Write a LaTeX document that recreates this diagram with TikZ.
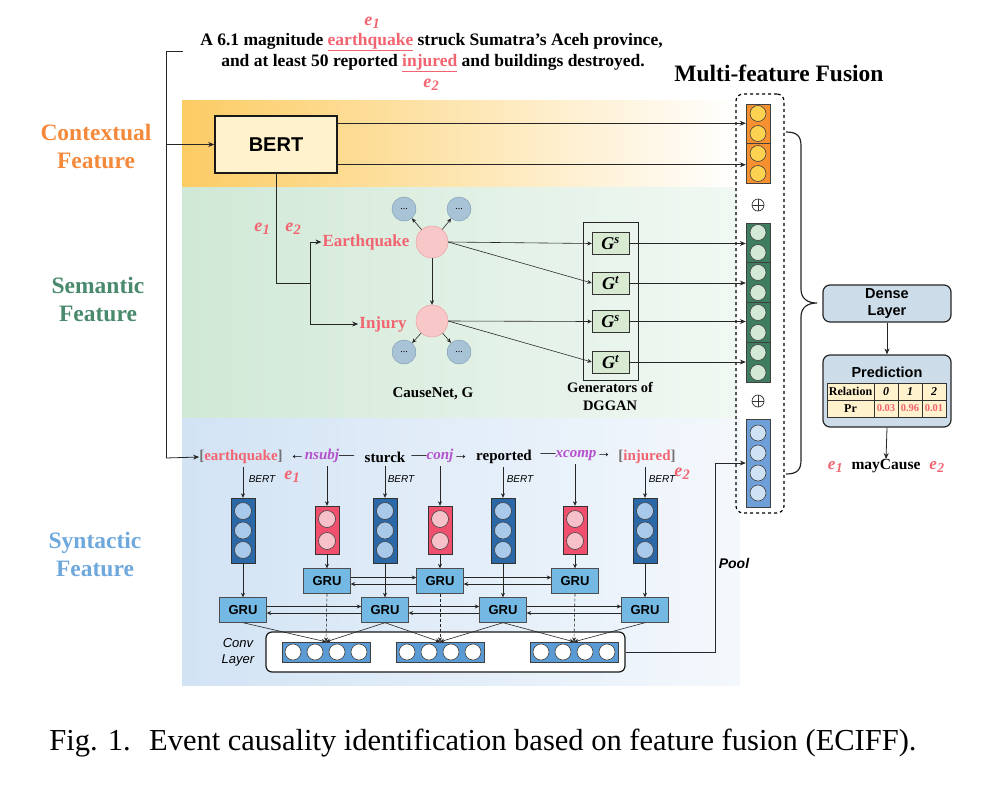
\documentclass[tikz,border=0pt]{standalone}
\usepackage{fontspec}
\setmainfont{Liberation Serif}
\setsansfont{Liberation Sans}
\usepackage{tikz}
\usetikzlibrary{arrows.meta,calc,positioning}

\definecolor{ctxorange}{RGB}{245,137,59}
\definecolor{bandorange}{RGB}{252,204,100}
\definecolor{semgreen}{RGB}{74,138,108}
\definecolor{bandgreen}{RGB}{208,232,214}
\definecolor{synblue}{RGB}{111,168,220}
\definecolor{bandblue}{RGB}{210,227,244}
\definecolor{entred}{RGB}{242,100,112}
\definecolor{deppurple}{RGB}{180,80,205}
\definecolor{bertyellow}{RGB}{255,242,204}
\definecolor{colorange}{RGB}{247,144,47}
\definecolor{dotyellow}{RGB}{253,210,80}
\definecolor{colgreen}{RGB}{62,125,96}
\definecolor{dotgreen}{RGB}{211,233,214}
\definecolor{colblue}{RGB}{111,159,216}
\definecolor{dotblue}{RGB}{207,226,243}
\definecolor{vecblue}{RGB}{43,104,168}
\definecolor{vecdot}{RGB}{169,201,234}
\definecolor{vecred}{RGB}{240,80,110}
\definecolor{vecpink}{RGB}{248,192,200}
\definecolor{grublue}{RGB}{116,185,227}
\definecolor{convblue}{RGB}{91,155,213}
\definecolor{nodepink}{RGB}{248,200,200}
\definecolor{nodeedge}{RGB}{232,150,150}
\definecolor{dotgray}{RGB}{169,195,214}
\definecolor{dotedge}{RGB}{120,150,175}
\definecolor{gengreen}{RGB}{217,234,211}
\definecolor{densegray}{RGB}{204,221,233}

\newcommand{\setsz}[2]{\fontsize{#1}{#2}\selectfont}
\newcommand{\ent}[1]{{\itshape e\kern0.3pt\raisebox{-0.35ex}{\scalebox{0.8}{#1}}}}

\begin{document}
\begin{tikzpicture}[x=1pt,y=-1pt,
    line/.style={draw=black!85, line width=0.8pt},
    arr/.style={line, -{Stealth[length=6pt,width=5pt]}},
    small arr/.style={draw=black!85, line width=0.6pt, -{Stealth[length=4.5pt,width=4pt]}},
    featlbl/.style={font=\bfseries\setsz{23.5}{28}, align=center, inner sep=0},
    word/.style={font=\bfseries\setsz{15}{15}, inner sep=0},
    entlbl/.style={font=\bfseries\setsz{18}{18}, text=entred, inner sep=0},
    bertsm/.style={font=\sffamily\itshape\setsz{10}{10}, inner sep=0},
    dot/.style={draw=black!75, line width=0.6pt},
    bluevec/.style={draw=black!80, fill=vecblue, minimum width=24pt, minimum height=65pt, inner sep=0},
    redvec/.style={draw=black!80, fill=vecred, minimum width=24pt, minimum height=48pt, inner sep=0},
    gru/.style={draw=black!70, fill=grublue, minimum width=47pt, minimum height=25pt, inner sep=0,
        font=\sffamily\bfseries\setsz{13}{13}},
    convvec/.style={draw=black!75, fill=convblue, minimum width=88pt, minimum height=20pt, inner sep=0},
    fcol/.style={draw=black!75, minimum width=24pt, inner sep=0},
    gbox/.style={draw=black!80, fill=gengreen, minimum width=37pt, minimum height=22pt, inner sep=0,
        font=\bfseries\itshape\setsz{18}{18}},
    bignode/.style={circle, draw=nodeedge, fill=nodepink, minimum size=32pt, inner sep=0},
    smallnode/.style={circle, draw=dotedge, fill=dotgray, minimum size=24pt, inner sep=0, font=\setsz{10}{10}},
    cell/.style={draw=black!80, fill=bertyellow, minimum height=17pt, inner sep=0, font=\bfseries\setsz{12}{12}},
    roundbox/.style={draw=black!85, line width=1.2pt, rounded corners=7pt, fill=densegray, inner sep=0}
]
\useasboundingbox (0,0) rectangle (1007,801);

% background bands
\fill[left color=bandorange, right color=white] (182,100) rectangle (737,187);
\fill[left color=bandgreen, right color=white!70!bandgreen] (182,187) rectangle (737,418);
\fill[left color=bandblue, right color=white!75!bandblue] (182,418) rectangle (740,685);

% feature labels
\node[featlbl, text=ctxorange] (ctxlbl) at (96,146) {Contextual\\Feature};
\node[featlbl, text=semgreen] (semlbl) at (98,299) {Semantic\\Feature};
\node[featlbl, text=synblue] (synlbl) at (95,554) {Syntactic\\Feature};

% input sentence
\node[font=\bfseries\setsz{17.5}{17.5}, inner sep=0] (sent1) at (431.5,42)
    {A 6.1 magnitude \textcolor{entred}{\underline{earthquake}} struck Sumatra's Aceh province,};
\node[font=\bfseries\setsz{17.5}{17.5}, inner sep=0] (sent2) at (433,63)
    {and at least 50 reported \textcolor{entred}{\underline{injured}} and buildings destroyed.};
\node[entlbl] (se1) at (372,23) {\ent{1}};
\node[entlbl] (se2) at (431,85) {\ent{2}};

% contextual
\node[draw=black!90, line width=1.5pt, fill=bertyellow, minimum width=122pt, minimum height=57pt,
    font=\sffamily\bfseries\setsz{20}{20}] (bert) at (276,144.5) {BERT};

\coordinate (brtop) at (183,51);
\coordinate (brbot) at (166,458);
\draw[line, line width=1pt] (brtop) -| (brbot);
\draw[arr] (bert.west -| brbot) -- (bert.west);

% fusion column
\node[draw, dashed, line width=1.2pt, rounded corners=7pt, minimum width=48pt, minimum height=419pt] (fuse) at (760,303.5) {};
\node[font=\bfseries\setsz{23.5}{23.5}, inner sep=0] (fuselbl) at (779,73) {Multi-feature Fusion};

\node[fcol, fill=colorange, minimum height=79pt] (colctx) at (758,143.5) {};
\node[fcol, fill=colgreen, minimum height=159pt] (colsem) at (758,302.5) {};
\node[fcol, fill=colblue, minimum height=88pt] (colsyn) at (758,463) {};
\draw[dot] (colctx.west) -- (colctx.east);
\foreach \dy in {-30,-10,10,30}
    \draw[dot, fill=dotyellow] ($(colctx)+(0,\dy)$) circle (8);
\foreach \dy in {-40,0,40}
    \draw[dot] ($(colsem.west)+(0,\dy)$) -- ($(colsem.east)+(0,\dy)$);
\foreach \dy in {-70,-50,-30,-10,10,30,50,70}
    \draw[dot, fill=dotgreen] ($(colsem)+(0,\dy)$) circle (8);
\foreach \dy in {-30,-10,10,30}
    \draw[dot, fill=dotblue] ($(colsyn)+(0,\dy)$) circle (8);
\foreach \y in {205,401} {
    \draw[black!80, line width=0.7pt] (758,\y) circle (6);
    \draw[black!80, line width=0.7pt] (752,\y) -- (764,\y) (758,\y-6) -- (758,\y+6);
}

\coordinate (bt1) at ([yshift=-8pt]bert.north east);
\coordinate (bt2) at ([yshift=9pt]bert.south east);
\draw[arr] (bt1) -- (bt1 -| colctx.west);
\draw[arr] (bt2) -- (bt2 -| colctx.west);

% semantic
\node[font=\bfseries\setsz{17}{17}, text=entred, inner sep=1pt] (eq) at (366,242) {Earthquake};
\node[font=\bfseries\setsz{17}{17}, text=entred, inner sep=1pt] (inj) at (383,324) {Injury};
\node[entlbl] (me1) at (262,229) {\ent{1}};
\node[entlbl] (me2) at (293,229) {\ent{2}};
\coordinate (split) at (310,283);
\draw[line] (bert.south) |- (split);
\draw[arr] (split) |- (eq.west);
\draw[arr] (split) |- (inj.west);

\node[bignode] (ceq) at (432,242) {};
\node[bignode] (cinj) at (432,321) {};
\node[smallnode] (d1) at (404,209) {...};
\node[smallnode] (d2) at (459,209) {...};
\node[smallnode] (d3) at (404,352) {...};
\node[smallnode] (d4) at (459,352) {...};
\foreach \a/\b in {ceq/d1,ceq/d2,cinj/d3,cinj/d4,ceq/cinj}
    \draw[small arr] (\a) -- (\b);
\node[font=\bfseries\setsz{15}{15}, inner sep=0] (causenet) at (433,394) {CauseNet, G};

\node[draw=black!85, line width=0.8pt, minimum width=55pt, minimum height=158pt, inner sep=0] (gen) at (610.5,301) {};
\node[gbox] (gs1) at (610.5,243.5) {G\textsuperscript{s}};
\node[gbox] (gt1) at (610.5,283) {G\textsuperscript{t}};
\node[gbox] (gs2) at (610.5,321.5) {G\textsuperscript{s}};
\node[gbox] (gt2) at (610.5,362) {G\textsuperscript{t}};
\node[font=\bfseries\setsz{14.5}{18}, align=center, inner sep=0] (genlbl) at (610,396) {Generators of\\DGGAN};
\draw[small arr] (ceq.east) -- (gs1.west);
\draw[small arr] (ceq.east) -- (gt1.west);
\draw[small arr] (cinj.east) -- (gs2.west);
\draw[small arr] (cinj.east) -- (gt2.west);
\foreach \g in {gs1,gt1,gs2,gt2}
    \draw[arr] (\g.east) -- (\g.east -| colsem.west);

% syntactic: words
\node[word] (w1) at (241,457) {{\color{black!55}[}\textcolor{entred}{earthquake}{\color{black!55}]}};
\node[word, font=\setsz{15}{15}] (w2) at (322,456) {←\textcolor{deppurple}{\bfseries\itshape nsubj}—};
\node[word] (w3) at (385,457) {sturck};
\node[word, font=\setsz{15}{15}] (w4) at (440,456) {—\textcolor{deppurple}{\bfseries\itshape conj}→};
\node[word] (w5) at (504,457) {reported};
\node[word, font=\setsz{15}{15}] (w6) at (576,456) {—\textcolor{deppurple}{\bfseries\itshape xcomp}→};
\node[word] (w7) at (647,457) {{\color{black!55}[}\textcolor{entred}{injured}{\color{black!55}]}};
\node[entlbl] (we1) at (292,477) {\ent{1}};
\node[entlbl] (we2) at (682,474) {\ent{2}};
\draw[arr] (brbot) -- (w1.west);

% syntactic: token vectors
\foreach \n/\x in {1/243,3/385,5/503,7/645} {
    \node[bluevec] (v\n) at (\x,530.5) {};
    \foreach \dy in {-19.5,0,19.5}
        \draw[dot, fill=vecdot] ($(v\n)+(0,\dy)$) circle (8.5);
}
\foreach \n/\x in {2/327,4/440,6/575} {
    \node[redvec] (v\n) at (\x,530) {};
    \foreach \dy in {-11,11}
        \draw[dot, fill=vecpink] ($(v\n)+(0,\dy)$) circle (8.5);
}
\foreach \n in {1,...,7}
    \draw[small arr] (v\n.north |- w\n.south) ++(0,3) -- (v\n.north);
\foreach \n/\x in {1/262,3/401,5/520,7/662}
    \node[bertsm] (b\n) at (\x,479) {BERT};

% syntactic: GRU layers
\foreach \n/\x in {1/327,2/440,3/575}
    \node[gru] (u\n) at (\x,581) {GRU};
\foreach \n/\x in {1/243,2/385,3/503,4/645}
    \node[gru] (l\n) at (\x,610) {GRU};
\foreach \a/\b in {1/2,2/4,3/6}
    \draw[small arr] (v\b.south) -- (u\a.north);
\foreach \a/\b in {1/1,2/3,3/5,4/7}
    \draw[small arr] (v\b.south) -- (l\a.north);
\foreach \a/\b in {u1/u2,u2/u3,l1/l2,l2/l3,l3/l4} {
    \draw[small arr] ([yshift=3.5pt]\a.east) -- ([yshift=3.5pt]\b.west);
    \draw[small arr] ([yshift=-3pt]\b.west) -- ([yshift=-3pt]\a.east);
}

% conv layer
\node[draw=black!90, line width=1.2pt, fill=white, rounded corners=6pt, minimum width=359pt, minimum height=40pt, inner sep=0] (conv) at (445.5,652) {};
\node[font=\sffamily\itshape\setsz{13}{16}, align=center, inner sep=0] (convlbl) at (238,652) {Conv\\Layer};
\foreach \n/\x in {1/326,2/440,3/574} {
    \node[convvec] (c\n) at (\x,652) {};
    \foreach \dx in {-33,-11,11,33}
        \draw[dot, fill=white] ($(c\n)+(\dx,0)$) circle (8);
}
\foreach \a/\b in {l1/c1,l2/c1,l2/c2,l3/c2,l3/c3,l4/c3}
    \draw[small arr] (\a.south) -- (\b.north);
\foreach \a/\b in {u1/c1,u2/c2,u3/c3}
    \draw[small arr, densely dashed] (\a.south) -- (\b.north);

\coordinate (poolup) at (715,463);
\draw[line, line width=1pt] (conv.east) -| (poolup);
\draw[arr] (poolup) -- (poolup -| colsyn.west);
\node[font=\sffamily\bfseries\itshape\setsz{14}{14}, inner sep=0] (poollbl) at (734,563) {Pool};

% brace, dense layer and prediction
\draw[line, line width=1.2pt] (786,132) .. controls (797,132) and (801,136) .. (801,146) -- (801,289)
    .. controls (801,299) and (808,303) .. (817,303) .. controls (808,303) and (801,307) .. (801,317)
    -- (801,460) .. controls (801,470) and (797,474) .. (786,474);
\node[roundbox, minimum width=128pt, minimum height=37pt, align=center,
    font=\sffamily\bfseries\setsz{14.5}{17}] (dense) at (887,303.5) {Dense\\Layer};
\node[roundbox, minimum width=128pt, minimum height=72pt] (pred) at (887,391) {};
\node[font=\sffamily\bfseries\setsz{14.5}{14.5}, inner sep=0] (predlbl) at (887,372) {Prediction};
\node[cell, minimum width=47pt] (trel) at (850.5,391.5) {Relation};
\node[cell, minimum width=24pt, font=\bfseries\itshape\setsz{12}{12}] (t0) at (886,391.5) {0};
\node[cell, minimum width=24pt, font=\bfseries\itshape\setsz{12}{12}] (t1) at (910,391.5) {1};
\node[cell, minimum width=24pt, font=\bfseries\itshape\setsz{12}{12}] (t2) at (934,391.5) {2};
\node[cell, minimum width=47pt] (tpr) at (850.5,408.5) {Pr};
\node[cell, minimum width=24pt, text=entred, font=\bfseries\setsz{10.5}{10.5}] (p0) at (886,408.5) {0.03};
\node[cell, minimum width=24pt, text=entred, font=\bfseries\setsz{10.5}{10.5}] (p1) at (910,408.5) {0.96};
\node[cell, minimum width=24pt, text=entred, font=\bfseries\setsz{10.5}{10.5}] (p2) at (934,408.5) {0.01};
\node[font=\bfseries\setsz{15.5}{15.5}, inner sep=0] (maycause) at (886,466)
    {\textcolor{entred}{\setsz{17}{17}\ent{1}}\hspace{9pt}mayCause\hspace{9pt}\textcolor{entred}{\setsz{17}{17}\ent{2}}};
\draw[arr] (dense.south) -- (pred.north);
\draw[arr] (pred.south) -- (maycause.north);

% caption
\node[font=\setsz{30.5}{30.5}, inner sep=0] (caption) at (483,743)
    {Fig. 1.\hspace{0.6em}Event causality identification based on feature fusion (ECIFF).};
\end{tikzpicture}
\end{document}
